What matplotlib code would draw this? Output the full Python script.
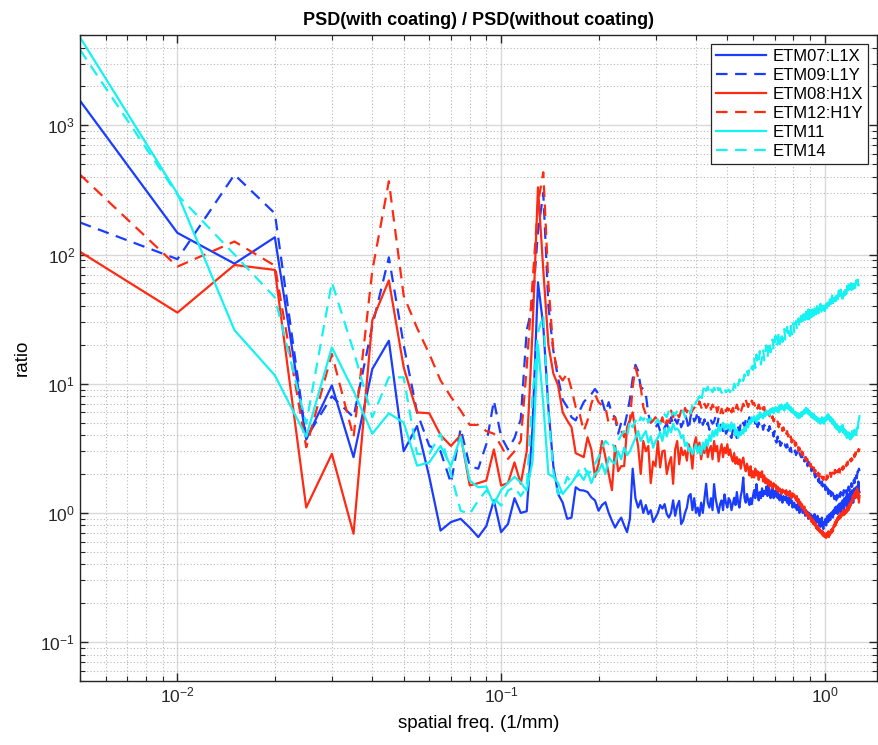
import numpy as np
import matplotlib
matplotlib.use("Agg")
import matplotlib.pyplot as plt
from matplotlib.ticker import LogLocator, NullFormatter

plt.rcParams['font.family'] = ['Liberation Sans', 'DejaVu Sans']
plt.rcParams['axes.unicode_minus'] = False

# spatial frequency bins (1/mm): 0.005 .. 1.28 step 0.005
freq = np.arange(1, 257) * 0.005

etm07_l1x = [
    1550, 147, 85, 136, 3.7, 9.7, 2.7, 13, 21.5, 3.0,
    4.7, 1.9, 0.73, 0.85, 0.90, 0.77, 0.65, 0.79, 1.25, 0.71,
    0.82, 1.3, 1.0, 1.03, 4.5, 61, 28, 6.5, 2.3, 1.4,
    1.2, 0.9, 0.92, 1.58, 1.5, 1.49, 1.45, 1.32, 1.25, 1.04,
    1.15, 1.21, 1.0, 0.87, 0.77, 0.85, 0.92, 0.8, 0.71, 0.9,
    2.2, 1.3, 1.1, 1.25, 1.0, 1.15, 0.98, 1.05, 0.85, 0.92,
    1.0, 1.15, 1.08, 1.17, 0.98, 0.92, 1.0, 1.25, 0.95, 1.13,
    1.24, 0.82, 0.87, 1.0, 1.1, 1.35, 1.4, 1.05, 1.3, 1.0,
    1.1, 0.95, 1.2, 1.0, 1.31, 1.68, 1.2, 1.1, 1.3, 1.05,
    1.67, 1.3, 1.12, 1.0, 1.17, 1.25, 1.05, 1.39, 1.2, 1.1,
    1.3, 1.24, 1.05, 1.18, 1.31, 1.15, 1.45, 1.2, 1.1, 1.35,
    1.5, 1.88, 1.3, 1.2, 1.4, 1.25, 1.15, 1.3, 1.17, 1.35,
    1.5, 1.3, 1.67, 1.4, 1.25, 1.45, 1.3, 1.55, 1.35, 1.48,
    1.4, 1.6, 1.35, 1.67, 1.5, 1.3, 1.45, 1.55, 1.3, 1.48,
    1.35, 1.5, 1.3, 1.4, 1.25, 1.38, 1.3, 1.2, 1.35, 1.31,
    1.25, 1.35, 1.2, 1.3, 1.15, 1.31, 1.2, 1.25, 1.1, 1.17,
    1.2, 1.1, 1.15, 1.05, 1.17, 1.1, 1.0, 1.12, 1.05, 1.1,
    1.0, 1.08, 1.04, 0.95, 1.05, 0.98, 1.02, 0.9, 1.0, 0.95,
    0.98, 0.88, 0.95, 0.85, 0.92, 0.98, 0.82, 0.9, 0.85, 0.95,
    0.88, 0.8, 0.9, 0.78, 0.85, 0.92, 0.8, 0.75, 0.85, 0.82,
    0.9, 0.8, 0.88, 0.95, 0.85, 0.92, 0.98, 0.88, 1.0, 0.95,
    1.02, 0.92, 1.05, 0.98, 1.1, 1.0, 1.12, 1.05, 0.98, 1.15,
    1.05, 1.18, 1.1, 1.0, 1.2, 1.1, 1.25, 1.12, 1.05, 1.3,
    1.15, 1.2, 1.35, 1.1, 1.25, 1.4, 1.2, 1.3, 1.15, 1.45,
    1.3, 1.25, 1.5, 1.3, 1.2, 1.4, 1.55, 1.3, 1.45, 1.35,
    1.6, 1.4, 1.3, 1.75, 1.5, 1.45,
]

etm09_l1y = [
    177, 92, 415, 208, 3.8, 8, 5.5, 28, 95, 20,
    6, 3.3, 3.0, 1.7, 4.5, 2.3, 2.2, 3.4, 7.4, 3.9,
    3.1, 3.8, 5.3, 26, 40, 150, 300, 40, 18, 11,
    7.5, 6.6, 5.5, 5.2, 6.2, 7.2, 7.8, 8.3, 9.1, 8.3,
    7.4, 6.0, 7.2, 5.8, 5.5, 4.1, 5.0, 4.6, 5.8, 7.6,
    11, 14, 12.6, 9.4, 9.1, 8.3, 5.8, 5.0, 5.2, 4.6,
    4.9, 4.3, 4.1, 4.6, 4.9, 4.4, 5.5, 4.8, 5.3, 4.9,
    5.5, 4.6, 5.0, 5.8, 5.2, 4.4, 5.6, 6.0, 5.1, 5.4,
    6.1, 5.0, 5.6, 4.8, 5.3, 4.6, 5.0, 4.4, 5.2, 4.9,
    5.1, 5.6, 4.7, 5.5, 5.0, 4.5, 4.3, 4.8, 4.1, 4.3,
    4.6, 4.0, 3.8, 4.4, 3.9, 4.2, 3.8, 4.6, 4.3, 4.9,
    4.6, 5.0, 4.7, 5.3, 4.8, 5.1, 5.5, 4.9, 5.2, 5.1,
    5.5, 4.9, 5.3, 4.6, 5.0, 4.7, 4.6, 4.9, 4.4, 4.8,
    4.6, 4.8, 4.5, 4.3, 4.7, 4.4, 4.1, 4.3, 3.9, 4.3,
    3.6, 3.5, 3.9, 3.4, 3.6, 3.3, 3.5, 3.2, 3.4, 3.4,
    3.3, 3.2, 3.4, 3.1, 3.3, 3.0, 3.2, 2.95, 3.1, 3.0,
    2.9, 3.05, 2.8, 2.95, 2.85, 2.7, 2.9, 2.8, 2.7, 2.84,
    2.6, 2.75, 2.5, 2.7, 2.45, 2.6, 2.3, 2.5, 2.35, 2.2,
    2.3, 2.1, 2.25, 2.0, 2.1, 1.95, 1.88, 2.0, 1.8, 1.9,
    1.75, 1.85, 1.7, 1.8, 1.65, 1.75, 1.6, 1.7, 1.55, 1.65,
    1.5, 1.6, 1.45, 1.55, 1.4, 1.5, 1.38, 1.48, 1.35, 1.45,
    1.3, 1.42, 1.35, 1.28, 1.4, 1.32, 1.25, 1.38, 1.3, 1.35,
    1.28, 1.4, 1.33, 1.45, 1.35, 1.3, 1.42, 1.36, 1.5, 1.38,
    1.45, 1.4, 1.5, 1.38, 1.55, 1.45, 1.6, 1.48, 1.55, 1.65,
    1.55, 1.7, 1.6, 1.75, 1.65, 1.8, 1.7, 1.9, 1.8, 1.95,
    1.85, 2.0, 2.1, 1.95, 2.2, 2.1,
]

etm08_h1x = [
    105, 35.5, 83, 76, 1.1, 2.86, 0.69, 31, 63, 13.4,
    6.0, 5.9, 4.0, 3.3, 4.0, 1.63, 1.7, 1.78, 3.1, 1.63,
    1.7, 2.46, 1.68, 3.0, 25, 331, 76, 20, 12, 9.7,
    6.0, 5.2, 4.6, 2.9, 2.8, 2.7, 3.85, 3.1, 1.9, 2.4,
    3.6, 2.7, 2.0, 1.5, 3.3, 2.1, 2.3, 2.3, 4.6, 5.2,
    6.0, 4.3, 3.3, 2.0, 3.6, 3.0, 3.3, 1.7, 2.5, 2.3,
    3.6, 2.25, 3.0, 3.04, 2.0, 2.4, 2.7, 1.68, 3.1, 3.6,
    2.38, 3.2, 2.8, 3.04, 2.54, 3.4, 3.0, 2.2, 3.4, 3.85,
    3.0, 3.5, 2.6, 3.2, 2.9, 3.6, 2.7, 3.1, 3.3, 2.6,
    3.6, 3.0, 3.3, 2.5, 3.0, 3.4, 2.7, 3.2, 2.9, 3.4,
    2.8, 3.1, 2.68, 2.5, 2.9, 2.4, 2.7, 2.38, 2.6, 2.2,
    2.5, 2.68, 2.3, 2.1, 2.4, 2.2, 1.95, 2.3, 1.88, 2.1,
    1.88, 2.2, 1.95, 2.1, 1.8, 2.05, 1.9, 2.1, 1.75, 1.95,
    1.7, 1.85, 1.67, 1.8, 1.6, 1.75, 1.67, 1.55, 1.7, 1.6,
    1.65, 1.5, 1.6, 1.45, 1.55, 1.48, 1.4, 1.52, 1.45, 1.48,
    1.4, 1.5, 1.38, 1.45, 1.35, 1.48, 1.4, 1.3, 1.42, 1.35,
    1.39, 1.3, 1.25, 1.35, 1.2, 1.28, 1.15, 1.22, 1.1, 1.17,
    1.1, 1.05, 1.12, 1.0, 1.05, 0.95, 1.0, 0.92, 0.98, 0.9,
    0.93, 0.85, 0.9, 0.82, 0.87, 0.8, 0.84, 0.76, 0.8, 0.74,
    0.78, 0.72, 0.75, 0.7, 0.73, 0.68, 0.72, 0.66, 0.7, 0.65,
    0.68, 0.64, 0.7, 0.66, 0.72, 0.65, 0.7, 0.68, 0.74, 0.7,
    0.76, 0.72, 0.8, 0.78, 0.85, 0.8, 0.88, 0.84, 0.92, 0.88,
    0.95, 0.9, 0.98, 0.92, 1.0, 0.95, 0.98, 1.05, 0.96, 1.02,
    0.98, 1.05, 1.0, 1.1, 1.03, 1.12, 1.05, 1.17, 1.1, 1.2,
    1.15, 1.25, 1.2, 1.35, 1.28, 1.39, 1.3, 1.45, 1.35, 1.5,
    1.4, 1.55, 1.3, 1.45, 1.2, 1.35,
]

etm12_h1y = [
    415, 80.6, 126, 82, 3.22, 17, 3.85, 75, 369, 48,
    27, 17, 10.6, 7.9, 6.2, 4.8, 4.8, 4.3, 4.1, 3.3,
    2.62, 3.0, 3.6, 13.4, 60, 250, 433, 60, 18, 11.9,
    10.6, 12, 9.1, 6.6, 5.8, 4.3, 5.2, 7.0, 8.3, 7.2,
    6.8, 6.6, 4.9, 5.2, 5.5, 4.6, 4.3, 3.85, 4.6, 5.2,
    9.4, 13.4, 11.2, 9.4, 6.6, 5.8, 5.2, 5.0, 5.2, 5.5,
    5.0, 4.9, 5.5, 4.6, 5.2, 5.0, 6.2, 5.5, 6.2, 5.8,
    5.5, 6.2, 5.7, 6.5, 6.0, 6.6, 5.8, 6.2, 6.5, 6.8,
    6.5, 7.3, 6.6, 6.2, 7.0, 6.5, 6.8, 7.3, 6.3, 6.9,
    6.5, 7.0, 6.0, 6.6, 5.8, 6.4, 5.9, 6.6, 6.1, 6.5,
    6.2, 6.8, 6.0, 6.5, 5.8, 6.4, 6.9, 6.3, 6.6, 6.0,
    6.5, 7.0, 6.6, 7.5, 7.0, 6.6, 7.2, 6.8, 7.4, 6.9,
    7.1, 6.6, 7.0, 6.4, 6.9, 6.5, 6.2, 6.8, 6.3, 6.6,
    6.0, 6.4, 5.8, 6.1, 5.6, 5.9, 5.3, 5.6, 5.1, 5.4,
    5.2, 4.9, 5.1, 4.6, 4.9, 4.5, 4.7, 4.3, 4.6, 4.3,
    4.5, 4.1, 4.3, 3.9, 4.1, 3.7, 3.9, 3.5, 3.7, 3.4,
    3.6, 3.3, 3.5, 3.2, 3.4, 3.0, 3.2, 2.9, 3.1, 2.8,
    2.95, 2.7, 2.85, 2.6, 2.7, 2.5, 2.6, 2.4, 2.5, 2.3,
    2.4, 2.25, 2.35, 2.15, 2.25, 2.05, 2.15, 2.0, 2.1, 1.95,
    2.05, 1.9, 2.0, 1.85, 1.95, 1.85, 1.9, 1.8, 1.95, 1.85,
    1.9, 1.8, 1.95, 1.85, 2.0, 1.88, 1.95, 2.05, 1.9, 2.0,
    2.05, 1.95, 2.1, 2.0, 2.15, 2.05, 2.2, 2.1, 2.0, 2.15,
    2.1, 2.2, 2.05, 2.15, 2.1, 2.25, 2.15, 2.3, 2.2, 2.35,
    2.25, 2.38, 2.3, 2.45, 2.35, 2.5, 2.4, 2.55, 2.5, 2.6,
    2.5, 2.65, 2.55, 2.7, 2.6, 2.8, 2.7, 2.9, 2.8, 2.95,
    2.85, 3.0, 2.9, 3.1, 3.0, 3.15,
]

etm11 = [
    4800, 296, 26, 11.6, 3.9, 19.1, 8.8, 4.1, 5.9, 5.0,
    2.32, 2.46, 3.3, 2.3, 3.9, 1.78, 1.58, 1.6, 1.17, 1.5,
    1.7, 1.9, 1.72, 1.49, 2.5, 20, 7, 2.0, 1.9, 1.7,
    1.4, 1.55, 1.7, 1.9, 2.0, 1.8, 2.1, 1.7, 2.0, 2.1,
    2.4, 2.0, 2.7, 2.5, 2.4, 3.0, 2.6, 3.2, 2.8, 3.0,
    3.4, 3.8, 4.3, 3.6, 4.0, 4.3, 3.5, 3.9, 3.2, 3.6,
    3.8, 4.2, 3.6, 4.5, 3.9, 4.6, 4.2, 4.9, 4.4, 4.5,
    4.3, 3.8, 4.0, 3.3, 3.5, 3.0, 3.2, 2.84, 3.1, 3.4,
    2.9, 3.3, 2.84, 3.5, 3.1, 3.7, 3.3, 4.0, 3.6, 4.3,
    3.9, 4.4, 4.0, 4.85, 4.3, 4.6, 5.0, 4.4, 4.85, 4.5,
    4.8, 4.3, 5.0, 4.5, 4.85, 4.0, 4.4, 3.8, 4.2, 4.0,
    4.4, 4.1, 4.6, 4.3, 4.9, 4.6, 5.2, 4.9, 5.5, 5.1,
    5.6, 5.2, 5.0, 5.7, 5.3, 6.0, 5.5, 5.8, 5.4, 6.0,
    5.6, 6.2, 5.8, 6.1, 5.7, 6.4, 6.0, 6.5, 5.9, 6.3,
    6.6, 6.1, 6.5, 6.0, 6.8, 6.3, 6.9, 6.4, 6.7, 6.2,
    6.9, 6.5, 7.1, 6.4, 6.8, 6.2, 6.6, 6.0, 6.4, 5.9,
    6.1, 5.7, 6.0, 5.5, 5.9, 5.4, 5.8, 5.5, 6.0, 5.6,
    6.1, 5.8, 6.3, 5.9, 6.5, 6.0, 6.4, 5.8, 6.2, 5.7,
    6.0, 5.5, 5.9, 5.4, 5.8, 5.3, 5.6, 5.2, 5.5, 5.1,
    5.4, 5.0, 5.3, 4.9, 5.2, 5.5, 5.0, 5.4, 4.9, 5.1,
    5.5, 5.2, 5.7, 5.3, 5.8, 5.4, 5.6, 5.1, 5.5, 5.2,
    4.9, 5.3, 4.8, 5.1, 4.6, 4.9, 4.5, 4.8, 4.4, 4.7,
    4.5, 4.2, 4.6, 4.3, 4.7, 4.4, 4.8, 4.2, 4.5, 4.1,
    4.4, 4.0, 4.3, 3.8, 4.1, 3.9, 4.2, 3.8, 4.0, 3.7,
    4.1, 3.8, 4.3, 3.9, 4.2, 4.0, 4.4, 4.1, 4.3, 4.0,
    4.4, 4.6, 4.5, 5.0, 5.3, 5.6,
]

etm14 = [
    3840, 290, 100, 46.6, 4.9, 61, 18, 5.5, 11.2, 11.2,
    2.86, 2.86, 4.1, 2.0, 1.04, 0.98, 1.25, 1.49, 1.3, 1.14,
    1.49, 1.58, 1.35, 1.58, 8, 25, 34, 6, 2.1, 1.4,
    1.5, 1.9, 1.7, 1.9, 2.2, 2.3, 2.0, 2.1, 2.4, 2.7,
    3.2, 3.6, 3.4, 3.6, 3.0, 3.6, 4.0, 4.3, 3.9, 5.2,
    4.6, 5.2, 4.8, 5.5, 5.2, 5.8, 5.0, 5.4, 4.8, 5.0,
    5.3, 4.9, 5.2, 5.8, 5.5, 6.2, 5.6, 6.0, 5.7, 6.2,
    6.1, 5.8, 6.2, 5.5, 6.0, 6.3, 5.9, 6.8, 6.4, 7.2,
    7.5, 8.0, 7.2, 8.6, 9.9, 8.8, 9.5, 8.4, 9.1, 8.6,
    9.3, 8.7, 9.6, 8.9, 9.2, 8.5, 8.8, 9.4, 8.6, 8.8,
    9.0, 8.6, 9.5, 8.9, 10.0, 9.3, 10.4, 9.7, 10.8, 10.2,
    11.2, 10.5, 11.8, 11.0, 12.5, 11.6, 13.0, 12.2, 13.6, 12.8,
    15.9, 13.2, 16.8, 14.1, 15.0, 17.9, 14.1, 16.0, 18.5, 15.2,
    17.0, 19.8, 16.0, 18.4, 21.3, 17.5, 19.0, 22.0, 18.2, 20.5,
    23.5, 19.5, 21.0, 24.5, 20.2, 22.8, 25.0, 21.0, 23.2, 26.5,
    22.0, 24.0, 27.5, 22.8, 25.6, 23.4, 28.5, 24.0, 26.6, 29.5,
    25.0, 27.4, 30.5, 26.2, 28.8, 32.0, 27.0, 30.5, 33.5, 28.5,
    31.5, 34.5, 29.5, 32.5, 36.0, 30.6, 33.0, 37.5, 31.5, 34.2,
    38.6, 32.8, 35.5, 39.5, 33.6, 36.0, 40.0, 34.5, 38.6, 42.0,
    35.0, 39.0, 36.5, 41.5, 37.0, 34.5, 40.0, 37.2, 43.0, 36.5,
    41.0, 44.5, 38.5, 42.0, 46.0, 40.0, 43.6, 47.5, 41.5, 45.0,
    49.0, 42.0, 46.0, 44.0, 50.0, 43.5, 47.0, 51.0, 45.0, 48.5,
    52.5, 46.0, 49.0, 53.5, 47.0, 50.5, 45.5, 52.0, 55.0, 48.0,
    51.5, 56.0, 49.5, 53.0, 57.5, 50.5, 54.0, 58.6, 52.0, 55.5,
    60.0, 53.0, 57.0, 61.5, 54.0, 58.6, 62.5, 55.0, 59.5, 63.0,
    56.5, 61.0, 64.0, 57.5, 62.0, 60.0,
]

series_names = ["ETM07:L1X", "ETM09:L1Y", "ETM08:H1X", "ETM12:H1Y", "ETM11", "ETM14"]
series_values = [etm07_l1x, etm09_l1y, etm08_h1x, etm12_h1y, etm11, etm14]

BLUE = '#1a3cff'
RED = '#ff2a12'
CYAN = '#14f2f2'
DASH = (0, (5.2, 3.4))
styles = [(BLUE, '-'), (BLUE, DASH), (RED, '-'), (RED, DASH), (CYAN, '-'), (CYAN, DASH)]

fig = plt.figure(figsize=(8.79, 7.45), dpi=100)
ax = fig.add_axes([80 / 879, 1 - 681 / 745, 797 / 879, 646 / 745])

for name, vals, (col, ls) in zip(series_names, series_values, styles):
    ax.plot(freq, vals, color=col, linestyle=ls, linewidth=1.6, label=name)

ax.set_xscale('log')
ax.set_yscale('log')
ax.set_xlim(0.005, 1.45)
ax.set_ylim(0.05, 5000)

ax.xaxis.set_minor_locator(LogLocator(base=10, subs=np.arange(2, 10)))
ax.yaxis.set_minor_locator(LogLocator(base=10, subs=np.arange(2, 10)))
ax.xaxis.set_minor_formatter(NullFormatter())
ax.yaxis.set_minor_formatter(NullFormatter())

ax.grid(True, which='major', color='#d9d9d9', linestyle='-', linewidth=1.0)
ax.grid(True, which='minor', color='#b8b8b8', linestyle=(0, (1, 2)), linewidth=0.8)
ax.set_axisbelow(True)

ax.tick_params(which='both', direction='in', top=True, right=True, colors='#262626',
               labelsize=12.5)
ax.tick_params(which='major', length=6, width=1.0)
ax.tick_params(which='minor', length=3.5, width=0.8)
for sp in ax.spines.values():
    sp.set_color('#262626')
    sp.set_linewidth(1.0)

ax.set_title('PSD(with coating) / PSD(without coating)', fontsize=13, fontweight='bold',
             pad=7)
ax.set_xlabel('spatial freq. (1/mm)', fontsize=13.5, labelpad=7)
ax.set_ylabel('ratio', fontsize=13.5, labelpad=7)

leg = ax.legend(loc='upper right', fontsize=12, frameon=True, fancybox=False,
                edgecolor='#262626', framealpha=1.0, borderpad=0.3, labelspacing=0.24,
                handlelength=3.0, handletextpad=0.4, borderaxespad=0.55)
leg.get_frame().set_linewidth(0.9)

fig.savefig('out.png', dpi=100)
